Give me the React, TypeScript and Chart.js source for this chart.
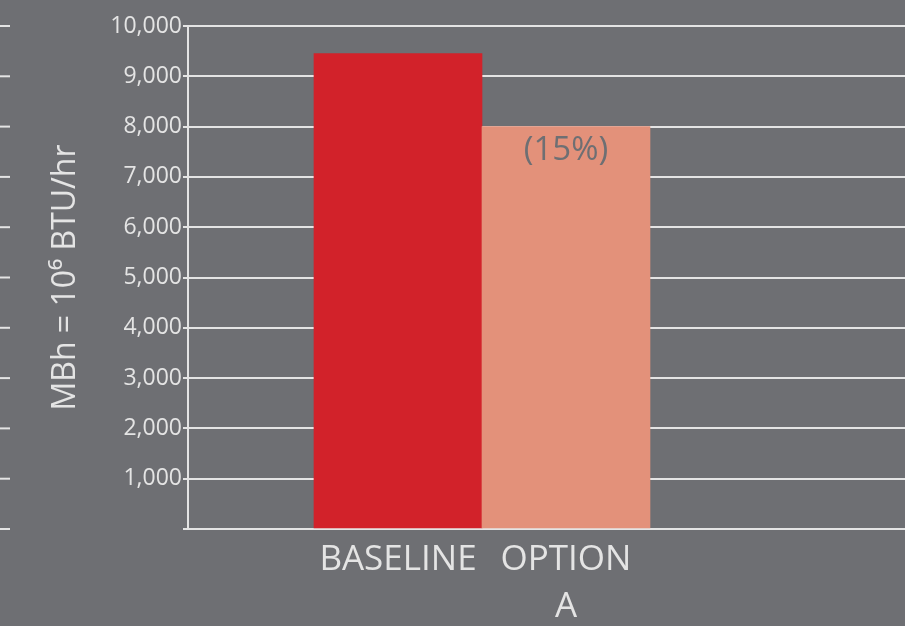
import React, { useEffect, useRef } from 'react';
import { Chart, registerables } from 'chart.js';

Chart.register(...registerables);

// ---- data ----
const categories = ['BASELINE', 'OPTION A'];
const categoryLines = [['BASELINE'], ['OPTION', 'A']];
const values = [9450, 8000];
const barColors = ['#d2222a', '#e3917a'];
const barLabels = ['', '(15%)'];
const yTickValues = [0, 1000, 2000, 3000, 4000, 5000, 6000, 7000, 8000, 9000, 10000];
const yTitle = 'MBh = 10\u2076 BTU/hr';

const BG = '#6e6f73';
const LINE = '#e4e4e4';
const FONT = '"Open Sans", "DejaVu Sans", sans-serif';

export default function App() {
  const ref = useRef<HTMLCanvasElement | null>(null);

  useEffect(() => {
    if (!ref.current) return;

    const sideMarks = {
      id: 'sideMarks',
      afterDraw(chart: any) {
        const ctx = chart.ctx;
        const y = chart.scales.y;
        ctx.save();
        ctx.strokeStyle = LINE;
        ctx.lineWidth = 2;
        yTickValues.forEach((v) => {
          const py = y.getPixelForValue(v);
          ctx.beginPath();
          ctx.moveTo(0, py);
          ctx.lineTo(10, py);
          ctx.stroke();
        });
        ctx.restore();
      },
    };

    const barText = {
      id: 'barText',
      afterDatasetsDraw(chart: any) {
        const ctx = chart.ctx;
        const meta = chart.getDatasetMeta(0);
        ctx.save();
        ctx.fillStyle = BG;
        ctx.font = `33px ${FONT}`;
        ctx.textAlign = 'center';
        ctx.textBaseline = 'middle';
        meta.data.forEach((bar: any, i: number) => {
          if (!barLabels[i]) return;
          ctx.fillText(barLabels[i], bar.x, bar.y + 24);
        });
        ctx.restore();
      },
    };

    const chart = new Chart(ref.current, {
      type: 'bar',
      data: {
        labels: categories,
        datasets: [
          {
            data: values.map((v, i) => ({ x: i, y: v })),
            backgroundColor: barColors,
            borderWidth: 0,
            barPercentage: 1,
            categoryPercentage: 1,
          },
        ],
      },
      options: {
        responsive: false,
        animation: false,
        layout: { padding: { top: 26, left: 0, right: 0, bottom: 0 } },
        plugins: {
          legend: { display: false },
          tooltip: { enabled: false },
        },
        scales: {
          x: {
            type: 'linear',
            position: 'bottom',
            offset: false,
            min: -1.25,
            max: 3.018,
            grid: { display: false },
            border: { display: false },
            ticks: {
              stepSize: 1,
              includeBounds: false,
              autoSkip: false,
              maxRotation: 0,
              padding: -1,
              color: LINE,
              font: { family: FONT, size: 35, lineHeight: 1.35 },
              callback: (v: any) => {
                const n = Number(v);
                return Number.isInteger(n) && categoryLines[n] ? categoryLines[n] : '';
              },
            },
            afterFit: (s: any) => {
              s.height = 97;
            },
          },
          y: {
            min: 0,
            max: 10000,
            grid: {
              color: LINE,
              lineWidth: 2,
              tickLength: 5,
              drawTicks: true,
            },
            border: { display: true, color: LINE, width: 2 },
            ticks: {
              stepSize: 1000,
              padding: 1,
              color: LINE,
              font: { family: FONT, size: 23 },
              callback: (v: any) => (Number(v) === 0 ? '' : Number(v).toLocaleString('en-US')),
            },
            title: {
              display: true,
              text: yTitle,
              color: LINE,
              font: { family: FONT, size: 32 },
              padding: { top: 47, bottom: 0 },
            },
            afterFit: (s: any) => {
              s.width = 188;
            },
          },
        },
      },
      plugins: [sideMarks, barText],
    });

    return () => chart.destroy();
  }, []);

  return (
    <div
      style={{
        position: 'fixed',
        left: 0,
        top: 0,
        width: 905,
        height: 626,
        background: BG,
        overflow: 'hidden',
      }}
    >
      <canvas ref={ref} width={905} height={626} style={{ display: 'block' }} />
    </div>
  );
}
